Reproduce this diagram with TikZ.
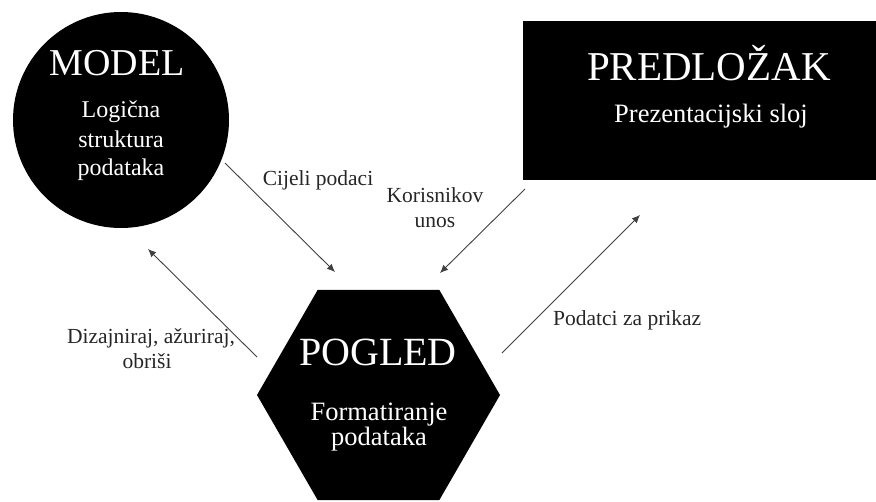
\documentclass[tikz,border=0pt]{standalone}
\usepackage{fontspec}
\setmainfont{Liberation Serif}
\usetikzlibrary{shapes.geometric,arrows.meta}
\tikzset{
 blackshape/.style={fill=black,draw=none,inner sep=0pt},
 titletext/.style={text=white,anchor=base,inner sep=0pt,font=\fontsize{38}{40}\selectfont},
 subtext/.style={text=white,anchor=base,inner sep=0pt,font=\fontsize{25}{28}\selectfont},
 lbl/.style={text=black!85,anchor=base,inner sep=0pt,font=\fontsize{21.5}{23}\selectfont},
 flow/.style={draw=black!75,line width=0.9pt,-{Latex[length=8pt,width=7pt]}}
}
\begin{document}
\begin{tikzpicture}[x=1pt,y=-1pt]
\useasboundingbox (0,0) rectangle (876,501);
% shapes
\node[blackshape,circle,minimum size=216pt] (model) at (121,120) {};
\node[blackshape,rectangle,minimum width=372pt,minimum height=159pt] (pred) at (709,100.5) {};
\node[blackshape,regular polygon,regular polygon sides=6,minimum size=243pt] (pogled) at (378.5,395) {};
% texts in shapes
\node[titletext,font=\fontsize{38}{40}\selectfont] (modelT) at (117,75) {MODEL};
\node[subtext,font=\fontsize{24}{26}\selectfont] (modelS1) at (121,117) {Logična};
\node[subtext,font=\fontsize{24}{26}\selectfont] (modelS2) at (121,147) {struktura};
\node[subtext,font=\fontsize{24}{26}\selectfont] (modelS3) at (121,175) {podataka};
\node[titletext,font=\fontsize{41}{44}\selectfont] (predT) at (709,80) {PREDLOŽAK};
\node[subtext,font=\fontsize{26.5}{28}\selectfont] (predS) at (711,122) {Prezentacijski sloj};
\node[titletext,font=\fontsize{40}{42}\selectfont] (pogT) at (378,365) {POGLED};
\node[subtext,font=\fontsize{26.5}{28}\selectfont] (pogS1) at (379,420) {Formatiranje};
\node[subtext,font=\fontsize{26.5}{28}\selectfont] (pogS2) at (379,445) {podataka};
% arrow end points
\coordinate (c1s) at (225,163); \coordinate (c1e) at (335,272);
\coordinate (c2s) at (525,189); \coordinate (c2e) at (440,273);
\coordinate (c3s) at (257,357); \coordinate (c3e) at (148,249);
\coordinate (c4s) at (502,353); \coordinate (c4e) at (640,215);
\draw[flow] (c1s) -- (c1e);
\draw[flow] (c2s) -- (c2e);
\draw[flow] (c3s) -- (c3e);
\draw[flow] (c4s) -- (c4e);
% labels
\node[lbl] (l1) at (318,185) {Cijeli podaci};
\node[lbl] (l2a) at (435,202) {Korisnikov};
\node[lbl] (l2b) at (435,227) {unos};
\node[lbl] (l3a) at (151,343) {Dizajniraj, ažuriraj,};
\node[lbl] (l3b) at (147,368) {obriši};
\node[lbl,anchor=base west] (l4) at (553,325) {Podatci za prikaz};
\end{tikzpicture}
\end{document}
